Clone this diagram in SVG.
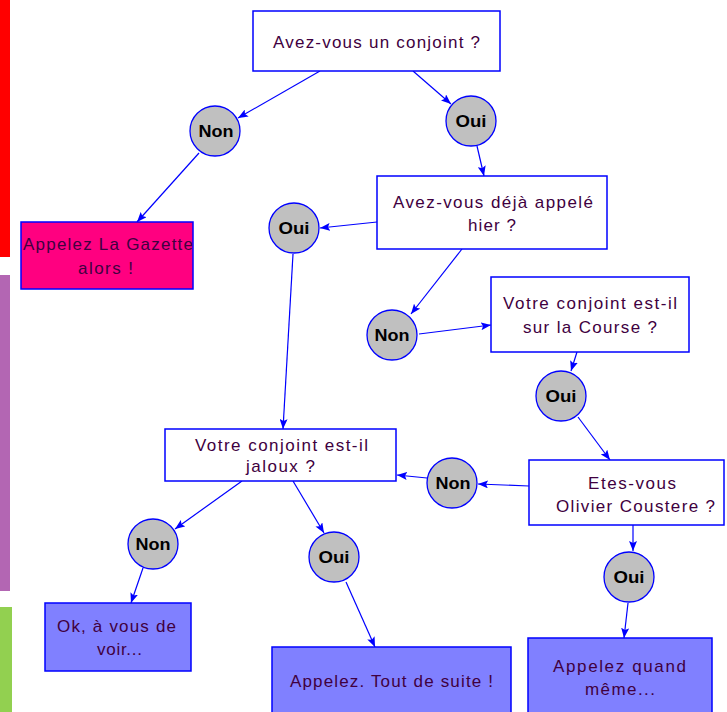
<svg xmlns="http://www.w3.org/2000/svg" width="727" height="712" viewBox="0 0 727 712">
<defs>
<marker id="arr" viewBox="0 0 10 8" refX="10" refY="4" markerWidth="10" markerHeight="8" markerUnits="userSpaceOnUse" orient="auto">
<path d="M0,0 L10,4 L0,8 L2,4 z" fill="#0000FF"/>
</marker>
</defs>
<style>
.box{stroke:#0000FF;stroke-width:1.5}
.q{fill:#FFFFFF}
.pink{fill:#FF0080}
.blue{fill:#8080FF}
.circ{fill:#C0C0C0;stroke:#0000FF;stroke-width:1.3}
.t{font-family:"Liberation Sans",Arial,sans-serif;font-size:17px;fill:#400040;text-anchor:middle}
.ct{font-family:"Liberation Sans",Arial,sans-serif;font-size:16px;font-weight:bold;fill:#000000;text-anchor:middle}
.c{stroke:#0000FF;stroke-width:1.2;fill:none;marker-end:url(#arr)}
</style>
<rect width="727" height="712" fill="#FFFFFF"/>
<rect x="0" y="0" width="10" height="257" fill="#FF0000"/>
<rect x="0" y="275" width="10" height="316" fill="#B366B3"/>
<rect x="0" y="607" width="12" height="105" fill="#92D050"/>

<g id="connectors">
<line class="c" x1="320" y1="71" x2="238" y2="118"/>
<line class="c" x1="199" y1="153" x2="137" y2="222"/>
<line class="c" x1="413" y1="71" x2="451" y2="104"/>
<line class="c" x1="477" y1="146" x2="484" y2="176"/>
<line class="c" x1="377" y1="222" x2="320" y2="228"/>
<line class="c" x1="293" y1="254" x2="283" y2="429"/>
<line class="c" x1="462" y1="249" x2="411" y2="314"/>
<line class="c" x1="419" y1="334" x2="491" y2="325"/>
<line class="c" x1="577" y1="352" x2="571" y2="371"/>
<line class="c" x1="578" y1="417" x2="610" y2="460"/>
<line class="c" x1="529" y1="486" x2="478" y2="484"/>
<line class="c" x1="427" y1="478" x2="397" y2="475"/>
<line class="c" x1="242" y1="481" x2="175" y2="529"/>
<line class="c" x1="143" y1="568" x2="131" y2="603"/>
<line class="c" x1="293" y1="481" x2="324" y2="533"/>
<line class="c" x1="346" y1="582" x2="375" y2="647"/>
<line class="c" x1="633" y1="525" x2="633" y2="551"/>
<line class="c" x1="628" y1="603" x2="624" y2="638"/>
</g>

<g id="q1">
<rect class="box q" x="253" y="11" width="247" height="60"/>
<text class="t" x="376.5" y="48" textLength="207" lengthAdjust="spacing">Avez-vous un conjoint ?</text>
</g>
<g id="non1">
<circle class="circ" cx="215" cy="131" r="25"/>
<text class="ct" x="216" y="137" textLength="35" lengthAdjust="spacingAndGlyphs">Non</text>
</g>
<g id="oui1">
<circle class="circ" cx="471" cy="121" r="25"/>
<text class="ct" x="471" y="127" textLength="31" lengthAdjust="spacingAndGlyphs">Oui</text>
</g>
<g id="gazette">
<rect class="box pink" x="21" y="222" width="172" height="67"/>
<text class="t" x="108" y="250" textLength="170" lengthAdjust="spacing">Appelez La Gazette</text>
<text class="t" x="105.5" y="274" textLength="55" lengthAdjust="spacing">alors !</text>
</g>
<g id="q2">
<rect class="box q" x="377" y="176" width="230" height="73"/>
<text class="t" x="493" y="208" textLength="200" lengthAdjust="spacing">Avez-vous déjà appelé</text>
<text class="t" x="492" y="231" textLength="48" lengthAdjust="spacing">hier ?</text>
</g>
<g id="oui2">
<circle class="circ" cx="294" cy="228" r="25"/>
<text class="ct" x="294" y="234" textLength="31" lengthAdjust="spacingAndGlyphs">Oui</text>
</g>
<g id="non2">
<circle class="circ" cx="392" cy="335" r="25"/>
<text class="ct" x="392" y="341" textLength="35" lengthAdjust="spacingAndGlyphs">Non</text>
</g>
<g id="q3">
<rect class="box q" x="491" y="277" width="198" height="75"/>
<text class="t" x="590" y="309" textLength="174" lengthAdjust="spacing">Votre conjoint est-il</text>
<text class="t" x="590" y="333" textLength="134" lengthAdjust="spacing">sur la Course ?</text>
</g>
<g id="oui3">
<circle class="circ" cx="561" cy="396" r="25"/>
<text class="ct" x="561" y="402" textLength="31" lengthAdjust="spacingAndGlyphs">Oui</text>
</g>
<g id="q4">
<rect class="box q" x="529" y="460" width="195" height="65"/>
<text class="t" x="632" y="489" textLength="88" lengthAdjust="spacing">Etes-vous</text>
<text class="t" x="635.5" y="512" textLength="159" lengthAdjust="spacing">Olivier Coustere ?</text>
</g>
<g id="non3">
<circle class="circ" cx="452" cy="483" r="25"/>
<text class="ct" x="453" y="489" textLength="35" lengthAdjust="spacingAndGlyphs">Non</text>
</g>
<g id="q5">
<rect class="box q" x="165" y="429" width="231" height="52"/>
<text class="t" x="281.5" y="451" textLength="173" lengthAdjust="spacing">Votre conjoint est-il</text>
<text class="t" x="280.5" y="472" textLength="69" lengthAdjust="spacing">jaloux ?</text>
</g>
<g id="non4">
<circle class="circ" cx="153" cy="544" r="25"/>
<text class="ct" x="153" y="550" textLength="35" lengthAdjust="spacingAndGlyphs">Non</text>
</g>
<g id="oui4">
<circle class="circ" cx="334" cy="557" r="25"/>
<text class="ct" x="334" y="563" textLength="31" lengthAdjust="spacingAndGlyphs">Oui</text>
</g>
<g id="oui5">
<circle class="circ" cx="629" cy="577" r="25"/>
<text class="ct" x="629" y="583" textLength="31" lengthAdjust="spacingAndGlyphs">Oui</text>
</g>
<g id="ok">
<rect class="box blue" x="45" y="603" width="146" height="68"/>
<text class="t" x="116.5" y="632" textLength="119" lengthAdjust="spacing">Ok, à vous de</text>
<text class="t" x="119.5" y="655" textLength="45" lengthAdjust="spacing">voir...</text>
</g>
<g id="toutdesuite">
<rect class="box blue" x="272" y="647" width="239" height="70"/>
<text class="t" x="391.5" y="687" textLength="203" lengthAdjust="spacing">Appelez. Tout de suite !</text>
</g>
<g id="quandmeme">
<rect class="box blue" x="528" y="638" width="184" height="79"/>
<text class="t" x="619.5" y="672" textLength="133" lengthAdjust="spacing">Appelez quand</text>
<text class="t" x="620" y="695" textLength="70" lengthAdjust="spacing">même...</text>
</g>
</svg>
